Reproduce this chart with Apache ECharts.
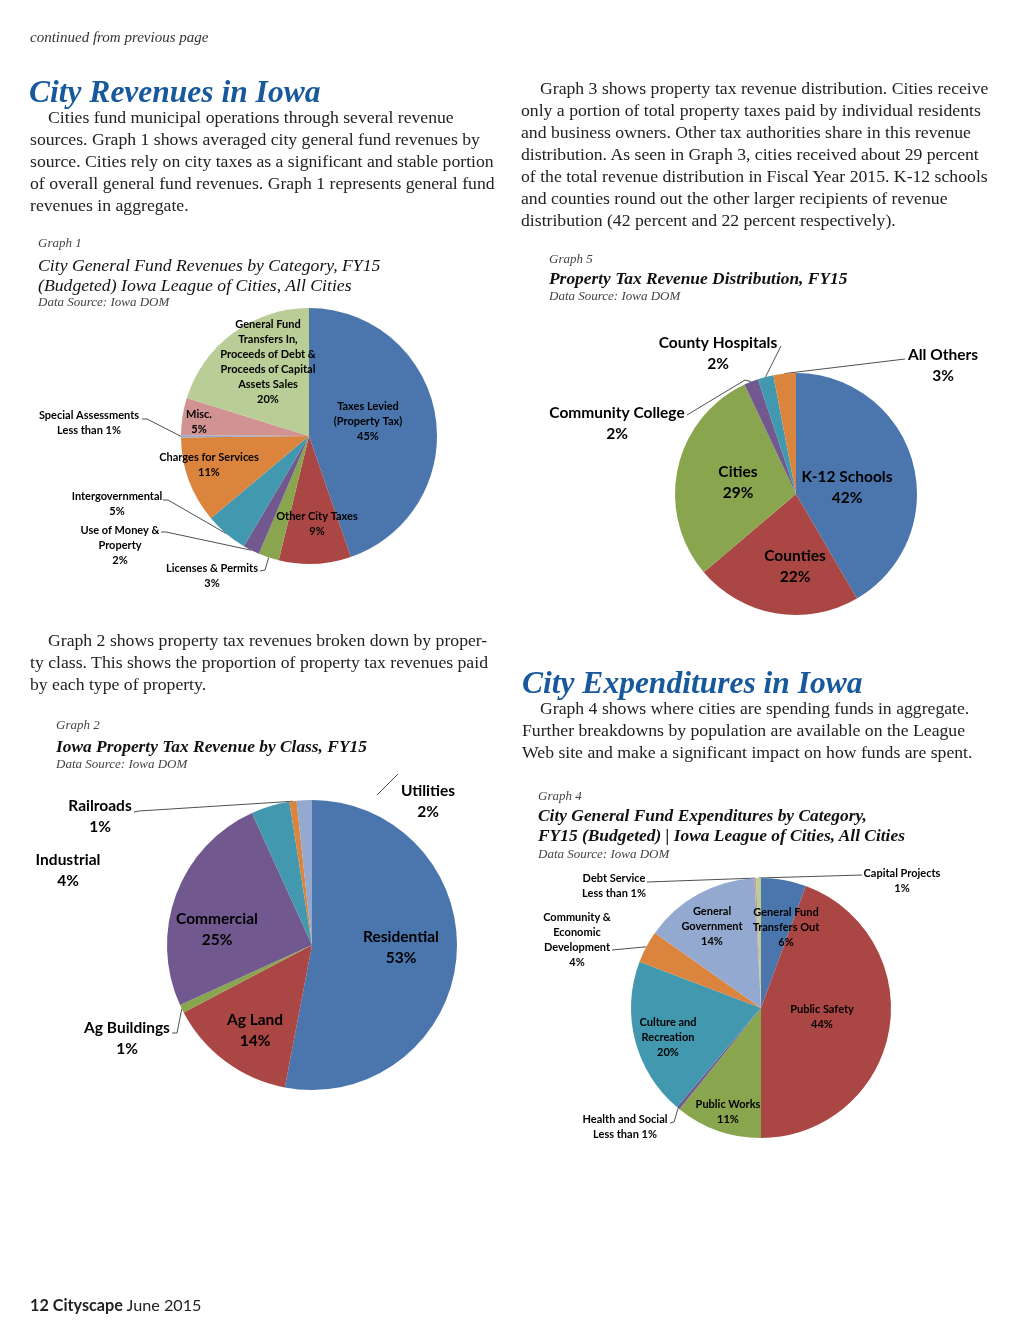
<!DOCTYPE html>
<html><head><meta charset="utf-8">
<script src="https://cdn.jsdelivr.net/npm/echarts@6/dist/echarts.min.js"></script>
<style>
html,body{margin:0;padding:0;background:#fff;}
#page{position:relative;width:1024px;height:1325px;overflow:hidden;background:#fff;}
#chart{position:absolute;left:0;top:0;width:1024px;height:1325px;}
.t{position:absolute;white-space:nowrap;font-family:"Liberation Serif",serif;color:#222;}
.p{font-size:17.7px;line-height:22px;}
.ind{display:inline-block;width:18px;}
.h{font-weight:bold;font-style:italic;font-size:31.5px;line-height:34px;color:#17599c;}
.gn{font-style:italic;font-size:13px;line-height:16px;color:#444;}
.gt{font-style:italic;font-size:17.7px;line-height:20px;color:#111;}
.gb{font-weight:bold;font-size:17.4px;}
.ds{font-style:italic;font-size:13px;line-height:16px;color:#444;}
.cont{font-style:italic;font-size:15px;line-height:18px;color:#333;}
.foot{font-family:Lato,sans-serif;font-size:16.2px;line-height:20px;color:#222;}
</style></head>
<body>
<div id="page">
<div id="chart"></div>

<div class="t cont" style="left:30px;top:28px;">continued from previous page</div>

<div class="t h" style="left:29px;top:75px;">City Revenues in Iowa</div>
<div class="t p" style="left:30px;top:106px;"><span class="ind"></span>Cities fund municipal operations through several revenue<br>sources. Graph 1 shows averaged city general fund revenues by<br>source. Cities rely on city taxes as a significant and stable portion<br>of overall general fund revenues. Graph 1 represents general fund<br>revenues in aggregate.</div>

<div class="t gn" style="left:38px;top:235px;">Graph 1</div>
<div class="t gt" style="left:38px;top:255px;">City General Fund Revenues by Category, FY15<br>(Budgeted) Iowa League of Cities, All Cities</div>
<div class="t ds" style="left:38px;top:294px;">Data Source: Iowa DOM</div>

<div class="t p" style="left:30px;top:629px;"><span class="ind"></span>Graph 2 shows property tax revenues broken down by proper-<br>ty class. This shows the proportion of property tax revenues paid<br>by each type of property.</div>

<div class="t gn" style="left:56px;top:717px;">Graph 2</div>
<div class="t gt gb" style="left:56px;top:736px;">Iowa Property Tax Revenue by Class, FY15</div>
<div class="t ds" style="left:56px;top:756px;">Data Source: Iowa DOM</div>

<div class="t p" style="left:521px;top:77px;"><span class="ind" style="width:19px"></span>Graph 3 shows property tax revenue distribution. Cities receive<br>only a portion of total property taxes paid by individual residents<br>and business owners. Other tax authorities share in this revenue<br>distribution. As seen in Graph 3, cities received about 29 percent<br>of the total revenue distribution in Fiscal Year 2015. K-12 schools<br>and counties round out the other larger recipients of revenue<br>distribution (42 percent and 22 percent respectively).</div>

<div class="t gn" style="left:549px;top:251px;">Graph 5</div>
<div class="t gt gb" style="left:549px;top:268px;">Property Tax Revenue Distribution, FY15</div>
<div class="t ds" style="left:549px;top:288px;">Data Source: Iowa DOM</div>

<div class="t h" style="left:522px;top:666px;">City Expenditures in Iowa</div>
<div class="t p" style="left:522px;top:697px;"><span class="ind"></span>Graph 4 shows where cities are spending funds in aggregate.<br>Further breakdowns by population are available on the League<br>Web site and make a significant impact on how funds are spent.</div>

<div class="t gn" style="left:538px;top:788px;">Graph 4</div>
<div class="t gt gb" style="left:538px;top:805px;">City General Fund Expenditures by Category,<br>FY15 (Budgeted) | Iowa League of Cities, All Cities</div>
<div class="t ds" style="left:538px;top:846px;">Data Source: Iowa DOM</div>

<div class="t foot" style="left:30px;top:1295px;"><b>12 Cityscape</b> June 2015</div>
</div>

<script>
// ---------- DATA ----------
const g1Names = ['Taxes Levied\n(Property Tax)', 'Other City Taxes', 'Licenses & Permits', 'Use of Money &\nProperty', 'Intergovernmental', 'Charges for Services', 'Special Assessments', 'Misc.', 'General Fund\nTransfers In,\nProceeds of Debt &\nProceeds of Capital\nAssets Sales'];
const g1Values = [44.7, 9.1, 2.6, 2.1, 5.4, 10.9, 0.3, 4.7, 20.2];

const g2Names = ['Residential', 'Ag Land', 'Ag Buildings', 'Commercial', 'Industrial', 'Railroads', 'Utilities'];
const g2Values = [53.0, 14.3, 0.9, 25.0, 4.3, 0.8, 1.7];

const g3Names = ['K-12 Schools', 'Counties', 'Cities', 'Community College', 'County Hospitals', 'All Others'];
const g3Values = [41.6, 22.2, 29.2, 1.9, 2.1, 3.0];

const g4Names = ['General Fund\nTransfers Out', 'Public Safety', 'Public Works', 'Health and Social', 'Culture and\nRecreation', 'Community &\nEconomic\nDevelopment', 'General\nGovernment', 'Debt Service', 'Capital Projects'];
const g4Values = [5.6, 44.4, 10.8, 0.4, 19.6, 4.0, 14.4, 0.2, 0.6];

// ---------- STYLE / LAYOUT ----------
const palette = ['#4a76ad', '#aa4643', '#89a54e', '#71588f', '#4198af', '#db843d', '#93a9cf', '#d19392', '#b9cd96'];

function pct(v) { return v < 0.5 ? 'Less than 1%' : Math.round(v) + '%'; }

const cfg1 = {
  center: [309, 436], r: 128, fs: 11, lh: 15,
  pos: [[59, -15], [8, 88], [-97, 140], [-189, 109], [-192, 67.5], [-100, 28.5], [-220, -13.5], [-110, -14], [-41, -74]],
  outside: [2, 3, 4, 6],
  leaders: { 2: [[-49, 135], [-44, 134]], 3: [[-148, 96], [-143, 96]], 4: [[-146, 64], [-141, 64]], 6: [[-167, -17], [-162, -17]] },
  noEdge: []
};
const cfg2 = {
  center: [312, 945], r: 145, fs: 15.5, lh: 21,
  pos: [[89, 2], [-57, 85.5], [-185, 93], [-95, -15.5], [-244, -75], [-212, -128.5], [116, -144]],
  outside: [2, 4, 5, 6],
  leaders: { 2: [[-140, 88], [-135, 88]], 5: [[-178, -133], [-173, -134]], 6: [[65, -150], [86, -171]] },
  noEdge: [6]
};
const cfg3 = {
  center: [796, 494], r: 121, fs: 15.5, lh: 21,
  pos: [[51, -6.5], [-1, 72.5], [-58, -11.5], [-179, -70.5], [-78, -140.5], [147, -128.5]],
  outside: [3, 4, 5],
  leaders: { 3: [[-109, -79], [-51, -114]], 4: [[-15, -148]], 5: [[109, -135]] },
  noEdge: []
};
const cfg4 = {
  center: [761, 1008], r: 130, fs: 11, lh: 15,
  pos: [[25, -81], [61, 8.5], [-33, 103.5], [-136, 118.5], [-93, 29], [-184, -68.5], [-49, -82], [-147, -122.5], [141, -127]],
  outside: [3, 5, 7, 8],
  leaders: { 3: [[-91, 115], [-87, 114]], 5: [[-149, -58]], 7: [[-114, -126]], 8: [[101, -133]] },
  noEdge: []
};

function pieSeries(names, values, cfg) {
  const total = values.reduce((a, b) => a + b, 0);
  const mids = []; let acc = 0;
  values.forEach(v => { mids.push((acc + v / 2) / total * 2 * Math.PI); acc += v; });
  const cx = cfg.center[0], cy = cfg.center[1];
  const data = names.map((n, i) => {
    const out = cfg.outside.includes(i);
    return {
      name: n, value: values[i],
      itemStyle: { color: palette[i % palette.length] },
      label: { position: out ? 'outside' : 'inside' },
      labelLine: { show: !!cfg.leaders[i] }
    };
  });
  return {
    type: 'pie', center: cfg.center, radius: cfg.r, startAngle: 90, clockwise: true,
    avoidLabelOverlap: false, animation: false, silent: true,
    itemStyle: { borderWidth: 0 },
    label: {
      show: true, color: '#000', fontFamily: 'Lato', fontWeight: 'bold',
      fontSize: cfg.fs, lineHeight: cfg.lh, overflow: 'none',
      formatter: p => p.name + '\n' + pct(p.value)
    },
    labelLine: { show: false, lineStyle: { color: '#222', width: 0.8 } },
    labelLayout: p => {
      const i = p.dataIndex, o = cfg.pos[i];
      const res = { x: cx + o[0], y: cy + o[1], align: 'center', verticalAlign: 'middle' };
      const ld = cfg.leaders[i];
      if (ld) {
        const pts = ld.map(q => [cx + q[0], cy + q[1]]);
        if (!cfg.noEdge.includes(i)) pts.push([cx + cfg.r * Math.sin(mids[i]), cy - cfg.r * Math.cos(mids[i])]);
        res.labelLinePoints = pts;
      }
      return res;
    },
    data
  };
}

const chart = echarts.init(document.getElementById('chart'), null, { renderer: 'canvas' });
chart.setOption({
  animation: false,
  color: palette,
  textStyle: { fontFamily: 'Lato' },
  series: [
    pieSeries(g1Names, g1Values, cfg1),
    pieSeries(g2Names, g2Values, cfg2),
    pieSeries(g3Names, g3Values, cfg3),
    pieSeries(g4Names, g4Values, cfg4)
  ]
});
</script>
</body></html>
